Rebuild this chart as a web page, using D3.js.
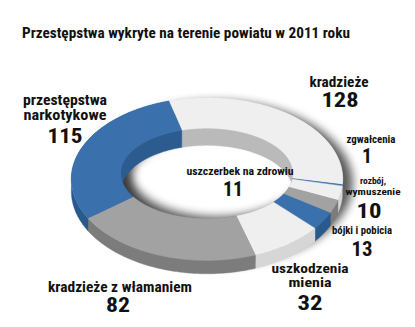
<!DOCTYPE html>
<html>
<head>
<meta charset="utf-8">
<script src="https://cdn.jsdelivr.net/npm/d3@7"></script>
<style>
html,body{margin:0;padding:0;background:#fff;}
svg{display:block;}
text{font-family:'Liberation Sans Narrow','Arial Narrow','Roboto Condensed','Liberation Sans',sans-serif;font-weight:bold;fill:#111;}
</style>
</head>
<body>
<svg id="chart" width="415" height="327"></svg>
<script>
// ---- data ----
const title = "Przestępstwa wykryte na terenie powiatu w 2011 roku";
const categories = ["kradzieże","zgwałcenia","uszczerbek na zdrowiu","rozbój, wymuszenie","bójki i pobicia","uszkodzenia mienia","kradzieże z włamaniem","przestępstwa narkotykowe"];
const values = [128, 1, 11, 10, 13, 32, 82, 115];
const labelLines = [["kradzieże"],["zgwałcenia"],["uszczerbek na zdrowiu"],["rozbój,","wymuszenie"],["bójki i pobicia"],["uszkodzenia","mienia"],["kradzieże z włamaniem"],["przestępstwa","narkotykowe"]];
const tones = ["light","blue","light","gray","blue","light","gray","blue"];

// ---- styles / layout ----
const topColor = d3.scaleOrdinal().domain(["light","blue","gray"]).range(["#efefef","#3a71ad","#a2a2a2"]);
const outerWallColor = d3.scaleOrdinal().domain(["light","blue","gray"]).range(["#d6d6d6","#2a5a8d","#7c7c7c"]);
const innerWallColor = d3.scaleOrdinal().domain(["light","blue","gray"]).range(["#bababa","#2c5c8f","#8a8a8a"]);

const CX = 207, CY = 171, AX = 135, AY = 80.5, P = 0.1;
const KX_IN = 0.637, KY_IN = 0.56;
const T_OUT = 12, T_IN = 18;

function proj(a, kx, ky, drop){
  const X = kx*Math.sin(a), Y = -ky*Math.cos(a);
  const s = 1/(1 - P*Y);
  return [CX + AX*X*s, CY + AY*Y*s + drop*s];
}
function edge(a0, a1, kx, ky, drop){
  const n = Math.max(2, Math.ceil(Math.abs(a1-a0)/0.01));
  return d3.range(n+1).map(i => proj(a0 + (a1-a0)*i/n, kx, ky, drop));
}
const line = d3.line();
const FULL = 2*Math.PI;

const svg = d3.select("#chart");
const defs = svg.append("defs");
defs.append("filter").attr("id","blur5").attr("x","-30%").attr("y","-30%").attr("width","160%").attr("height","160%")
  .append("feGaussianBlur").attr("stdDeviation",5);
defs.append("filter").attr("id","blur3").attr("x","-30%").attr("y","-30%").attr("width","160%").attr("height","160%")
  .append("feGaussianBlur").attr("stdDeviation",4);

const start = -18*Math.PI/180;
const pie = d3.pie().sort(null).value(d => d).startAngle(start).endAngle(start + FULL);
const arcs = pie(values).map((d,i) => ({...d, tone: tones[i], cat: categories[i]}));

const g = svg.append("g");

// outer drop shadow (ring shaped)
g.append("path")
  .attr("d", line(edge(0, FULL, 1, 1, T_OUT*0.5)) + "Z" + line(edge(0, FULL, KX_IN, KY_IN, 0)) + "Z")
  .attr("fill-rule","evenodd")
  .attr("transform","translate(10,-2)")
  .attr("fill","#000").attr("opacity",0.65).attr("filter","url(#blur5)");

// hole shadow (cast by the ring onto the floor inside the hole)
const holeD = line(edge(0, FULL, KX_IN, KY_IN, 0)) + "Z";
defs.append("clipPath").attr("id","hole").append("path").attr("d", holeD);
g.append("g").attr("clip-path","url(#hole)")
  .append("path")
  .attr("d", "M-50,-50H465V377H-50Z" + line(edge(0, FULL, KX_IN, KY_IN, 0).map(p => [p[0]+10, p[1]+9])) + "Z")
  .attr("fill-rule","evenodd")
  .attr("fill","#000").attr("opacity",0.35).attr("filter","url(#blur3)");

// outer walls
g.selectAll("path.ow").data(arcs).join("path").attr("class","ow")
  .attr("d", d => {
    const top = edge(d.startAngle, d.endAngle, 1, 1, 0);
    const bot = edge(d.endAngle, d.startAngle, 1, 1, T_OUT);
    return line(top.concat(bot)) + "Z";
  })
  .attr("fill", d => outerWallColor(d.tone))
  .attr("stroke", d => outerWallColor(d.tone)).attr("stroke-width",0.4);

// inner walls
g.selectAll("path.iw").data(arcs).join("path").attr("class","iw")
  .attr("d", d => {
    const top = edge(d.startAngle, d.endAngle, KX_IN, KY_IN, 0);
    const bot = edge(d.endAngle, d.startAngle, KX_IN, KY_IN, T_IN);
    return line(top.concat(bot)) + "Z";
  })
  .attr("fill", d => innerWallColor(d.tone))
  .attr("stroke", d => innerWallColor(d.tone)).attr("stroke-width",0.4);

// top surfaces
g.selectAll("path.top").data(arcs).join("path").attr("class","top")
  .attr("d", d => {
    const o = edge(d.startAngle, d.endAngle, 1, 1, 0);
    const inn = edge(d.endAngle, d.startAngle, KX_IN, KY_IN, 0);
    return line(o.concat(inn)) + "Z";
  })
  .attr("fill", d => topColor(d.tone))
  .attr("stroke", d => topColor(d.tone)).attr("stroke-width",0.4);

// title
svg.append("text").attr("x",22).attr("y",38).attr("font-size",15)
  .attr("textLength",328).attr("lengthAdjust","spacingAndGlyphs").text(title);

// labels layout (positions per category index)
const layout = [
  {x:339, lines:[{y:87, fs:14, w:59}], num:{x:340, y:107, fs:21, w:37}},
  {x:371, lines:[{y:143, fs:10.5, w:49}], num:{x:367, y:163, fs:21, w:10}},
  {x:240, lines:[{y:175, fs:10.5, w:107}], num:{x:233, y:196, fs:21, w:20}},
  {x:373, lines:[{y:184, fs:9.5, w:26},{y:195, fs:9.5, w:55}], num:{x:369, y:218, fs:21, w:25}},
  {x:362, lines:[{y:234, fs:10.5, w:60}], num:{x:362, y:256, fs:21, w:21}},
  {x:310, lines:[{y:273, fs:12.5, w:77},{y:287, fs:12.5, w:43}], num:{x:310, y:310, fs:21, w:25}},
  {x:120, lines:[{y:292, fs:14, w:144}], num:{x:118, y:312, fs:21, w:24}},
  {x:65, lines:[{y:105, fs:14, w:84},{y:120, fs:14, w:83}], num:{x:65, y:143, fs:21, w:35}}
];
const fmt = d3.format("d");
const labels = svg.append("g");
categories.forEach((c,i) => {
  const L = layout[i];
  labelLines[i].forEach((t,j) => {
    labels.append("text").attr("x",L.x).attr("y",L.lines[j].y).attr("text-anchor","middle")
      .attr("font-size",L.lines[j].fs)
      .attr("textLength",L.lines[j].w).attr("lengthAdjust","spacingAndGlyphs").text(t);
  });
  labels.append("text").attr("x",L.num.x).attr("y",L.num.y).attr("text-anchor","middle")
    .attr("font-size",L.num.fs)
    .attr("textLength",L.num.w).attr("lengthAdjust","spacingAndGlyphs").text(fmt(values[i]));
});
</script>
</body>
</html>
